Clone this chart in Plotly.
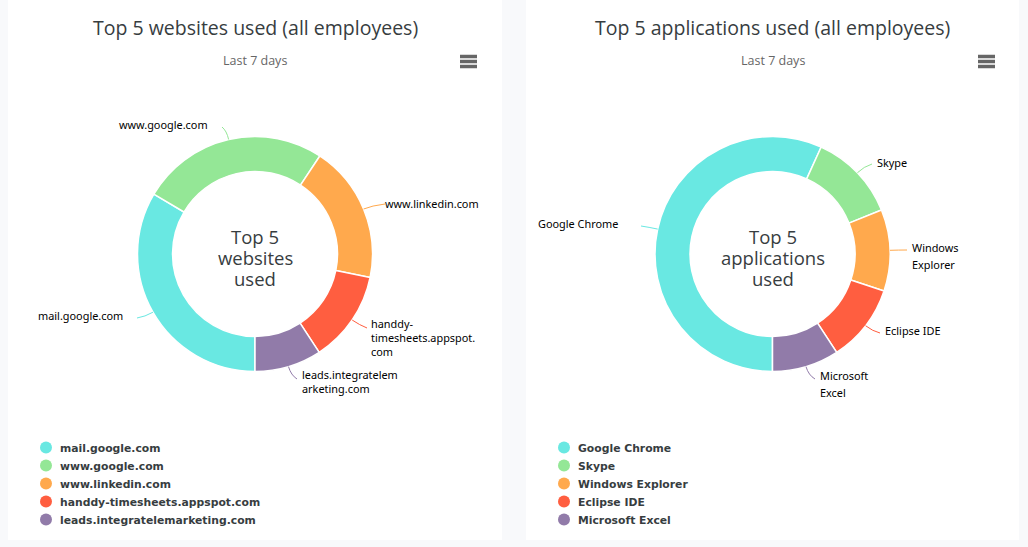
import math
import plotly.graph_objects as go

websiteLabels = ["mail.google.com", "www.google.com", "www.linkedin.com",
                 "handdy-timesheets.appspot.com", "leads.integratelemarketing.com"]
websiteValues = [33.5, 25.8, 18.9, 12.6, 9.2]
applicationLabels = ["Google Chrome", "Skype",
                     "Windows Explorer", "Eclipse IDE", "Microsoft Excel"]
applicationValues = [56.8, 12.1, 11.2, 10.7, 9.2]
sliceColors = ["#69E8E2", "#94E796", "#FFA94D", "#FF5E40", "#917BA9"]

pageWidth = 1028
pageHeight = 547
outerRadius = 117.5
titleFont = "Open Sans"
labelFont = "Noto Sans"
legendFont = "DejaVu Sans"


def getMidAngles(values):
    total = sum(values)
    angles = []
    start = 180
    for value in values:
        span = value/total*360
        angles.append(start + span/2)
        start += span
    return angles


def addText(fig, text, x, y, size, color, font, bold=False):
    fig.add_annotation(x=x-2, y=y, xref="x", yref="y", text="<b>"+text+"</b>" if bold else text, showarrow=False, xanchor="left", yanchor="middle",
                       font=dict(family=font, size=size, color=color))


def addCenteredText(fig, text, x, y, size, color):
    fig.add_annotation(x=x, y=y-1, xref="x", yref="y", text=text, showarrow=False, xanchor="center", yanchor="middle",
                       font=dict(family=titleFont, size=size, color=color))


def addDonut(fig, labels, values, centerX, centerY, panelX0, panelX1):
    fig.add_shape(type="rect", x0=panelX0, x1=panelX1, y0=0, y1=540, xref="x", yref="y",
                  fillcolor="white", line_width=0, layer="below")
    fig.add_trace(go.Pie(labels=labels, values=values, sort=False, direction="clockwise", rotation=180, hole=0.702, textinfo="none", showlegend=False,
                         marker=dict(colors=sliceColors, line=dict(color="white", width=1.5)),
                         domain=dict(x=[(centerX-outerRadius)/pageWidth, (centerX+outerRadius)/pageWidth],
                                     y=[1-(centerY+outerRadius)/pageHeight, 1-(centerY-outerRadius)/pageHeight])))


def addConnectors(fig, values, centerX, centerY, connectorEnds):
    for angle, end, color in zip(getMidAngles(values), connectorEnds, sliceColors):
        radians = math.radians(angle)
        startX = centerX + outerRadius*math.sin(radians)
        startY = centerY - outerRadius*math.cos(radians)
        controlX = centerX + (outerRadius+9)*math.sin(radians)
        controlY = centerY - (outerRadius+9)*math.cos(radians)
        fig.add_shape(type="path", path=f"M {startX} {startY} Q {controlX} {controlY} {end[0]} {end[1]}", xref="x", yref="y",
                      line=dict(color=color, width=1))


def addLegend(fig, labels, dotX, textX):
    for index, label in enumerate(labels):
        y = 447.5 + index*18
        fig.add_trace(go.Scatter(x=[dotX], y=[y], mode="markers", showlegend=False, hoverinfo="skip",
                                 marker=dict(color=sliceColors[index], size=12)))
        addText(fig, label, textX, y+0.5, 10.8, "#373D3F", legendFont, bold=True)


def addMenu(fig, x0, x1):
    for y in [56.5, 61.5, 66.5]:
        fig.add_shape(type="line", x0=x0, x1=x1, y0=y, y1=y, xref="x", yref="y",
                      line=dict(color="#666666", width=3.5))


def buildPlots():
    fig = go.Figure()
    addDonut(fig, websiteLabels, websiteValues, 255, 254, 8, 502)
    addDonut(fig, applicationLabels, applicationValues, 772.5, 254, 526, 1019)
    addConnectors(fig, websiteValues, 255, 254,
                  [(137, 318), (222, 127), (385, 204), (367, 328), (297, 379)])
    addConnectors(fig, applicationValues, 772.5, 254,
                  [(641, 226), (872, 164), (907, 250), (880, 333), (815, 379)])

    addCenteredText(fig, "Top 5 websites used (all employees)", 255, 28, 19.5, "#373D3F")
    addCenteredText(fig, "Top 5 applications used (all employees)", 772.5, 28, 19.5, "#373D3F")
    addCenteredText(fig, "Last 7 days", 255, 61, 12.5, "#666666")
    addCenteredText(fig, "Last 7 days", 772.5, 61, 12.5, "#666666")

    for text, y in [("Top 5", 237), ("websites", 258), ("used", 279)]:
        addCenteredText(fig, text, 255, y, 18.5, "#373D3F")
    for text, y in [("Top 5", 237), ("applications", 258), ("used", 279)]:
        addCenteredText(fig, text, 772.5, y, 18.5, "#373D3F")

    for text, x, y in [("www.google.com", 119, 124), ("www.linkedin.com", 385, 203), ("handdy-", 371, 323), ("timesheets.appspot.", 371, 337), ("com", 371, 351),
                       ("leads.integratelem", 301.5, 374), ("arketing.com", 301.5, 388), ("mail.google.com", 37.5, 315),
                       ("Google Chrome", 537.5, 223), ("Skype", 877, 162), ("Windows", 911.5, 247), ("Explorer", 911.5, 264), ("Eclipse IDE", 885, 330),
                       ("Microsoft", 820, 375), ("Excel", 820, 392)]:
        addText(fig, text, x, y, 10.9, "black", labelFont)

    addLegend(fig, websiteLabels, 46, 60)
    addLegend(fig, applicationLabels, 564, 578)
    addMenu(fig, 460, 477)
    addMenu(fig, 978, 995)

    fig.update_layout(width=pageWidth, height=pageHeight, margin=dict(l=0, r=0, t=0, b=0), paper_bgcolor="#F8F9FB", plot_bgcolor="rgba(0,0,0,0)",
                      xaxis=dict(range=[0, pageWidth], visible=False, fixedrange=True),
                      yaxis=dict(range=[pageHeight, 0], visible=False, fixedrange=True))
    return fig


if __name__ == "__main__":
    buildPlots().write_html("out.html", config={"displayModeBar": False}, post_script="document.body.style.margin='0';")
